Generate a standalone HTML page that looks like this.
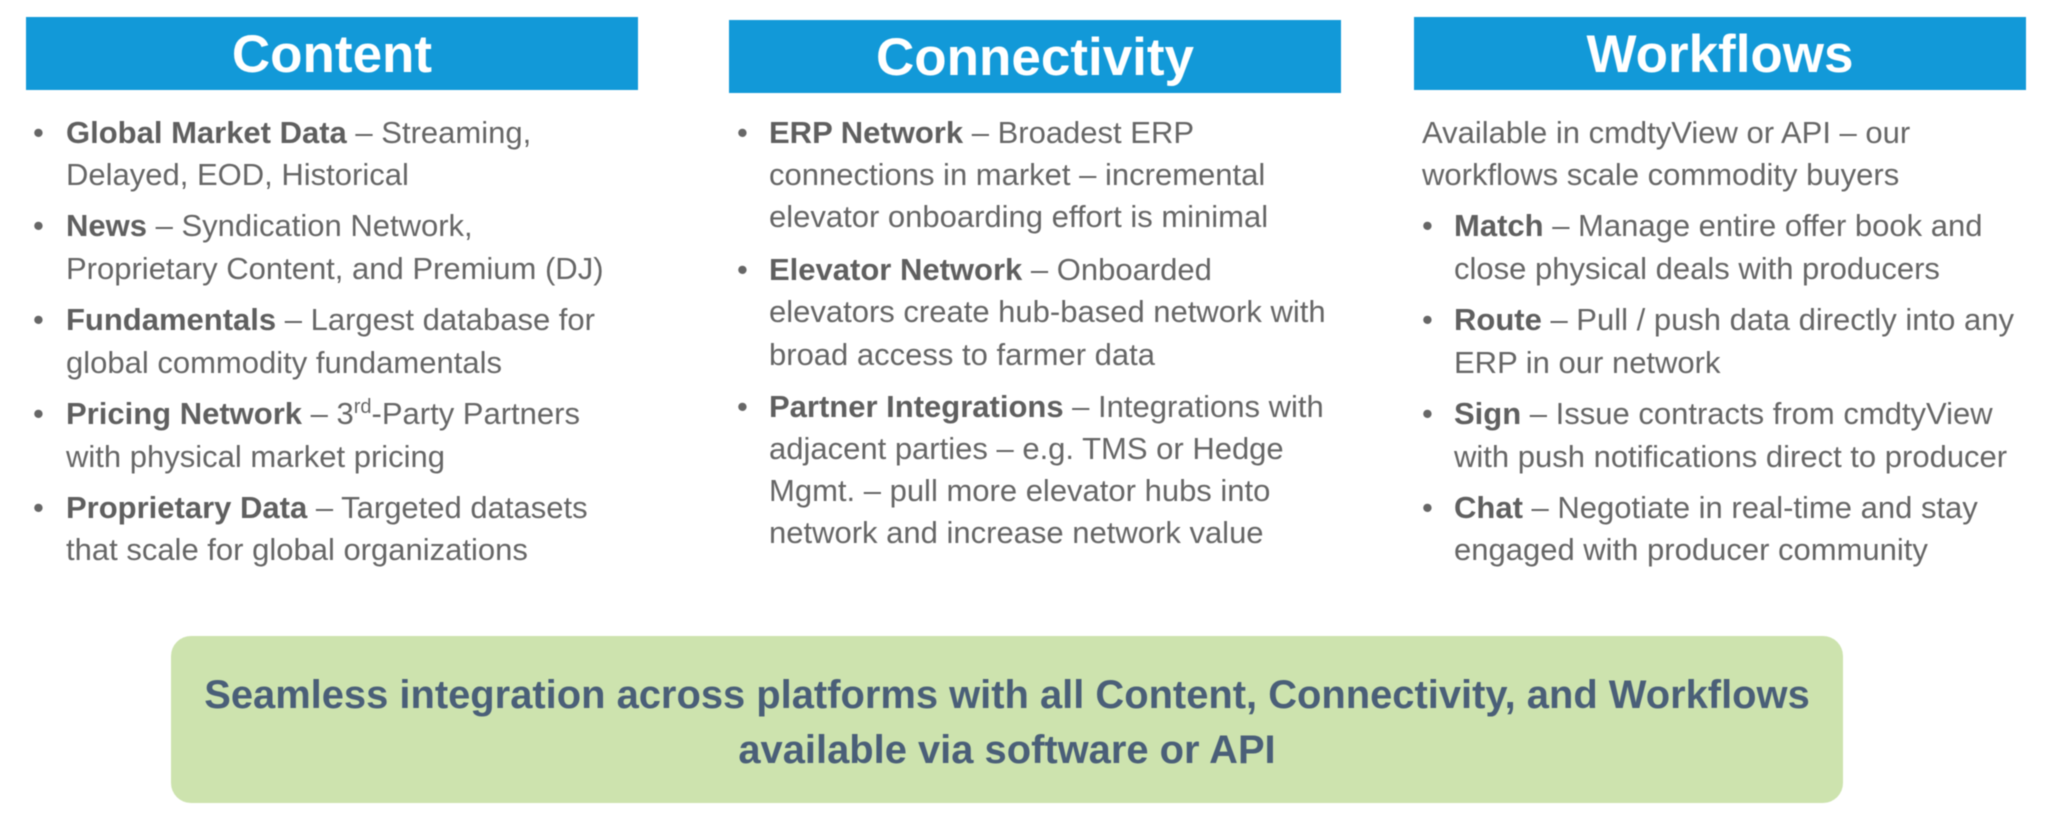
<!DOCTYPE html>
<html><head><meta charset="utf-8"><style>
html,body{margin:0;padding:0;background:#fff}
body{width:2048px;height:833px;position:relative;overflow:hidden;font-family:"Liberation Sans",Arial,sans-serif}
#w{position:absolute;left:0;top:0;width:2048px;height:833px;filter:blur(0.4px)}
.h{position:absolute;background:#1299d8;color:#fff;font-weight:bold;font-size:53px;text-align:center;line-height:75px;height:73px;width:612px}
.l{position:absolute;white-space:nowrap;font-size:31px;line-height:40px;color:#666}
.l b{color:#5f5f5f}
.d{position:absolute;font-size:31px;line-height:40px;color:#666}
sup{font-size:20px;line-height:0;vertical-align:baseline;position:relative;top:-11px}
.g{position:absolute;left:171px;top:636px;width:1672px;height:167px;background:#cde3ae;border-radius:20px}
.t{position:absolute;left:171px;width:1672px;text-align:center;font-weight:bold;font-size:39.9px;line-height:50px;color:#4a5f78;white-space:nowrap}
</style></head><body><div id="w">
<div class="h" style="left:26px;top:17px">Content</div>
<div class="h" style="left:729px;top:20px">Connectivity</div>
<div class="h" style="left:1414px;top:17px">Workflows</div>

<div class="d" style="left:33px;top:113px">•</div><div class="l" style="left:66px;top:113px"><b>Global Market Data</b> – Streaming,</div>
<div class="l" style="left:66px;top:155px">Delayed, EOD, Historical</div>
<div class="d" style="left:33px;top:206px">•</div><div class="l" style="left:66px;top:206px"><b>News</b> – Syndication Network,</div>
<div class="l" style="left:66px;top:249px">Proprietary Content, and Premium (DJ)</div>
<div class="d" style="left:33px;top:300px">•</div><div class="l" style="left:66px;top:300px"><b>Fundamentals</b> – Largest database for</div>
<div class="l" style="left:66px;top:343px">global commodity fundamentals</div>
<div class="d" style="left:33px;top:394px">•</div><div class="l" style="left:66px;top:394px"><b>Pricing Network</b> – 3<sup>rd</sup>-Party Partners</div>
<div class="l" style="left:66px;top:437px">with physical market pricing</div>
<div class="d" style="left:33px;top:488px">•</div><div class="l" style="left:66px;top:488px"><b>Proprietary Data</b> – Targeted datasets</div>
<div class="l" style="left:66px;top:530px">that scale for global organizations</div>

<div class="d" style="left:737px;top:113px">•</div><div class="l" style="left:769px;top:113px"><b>ERP Network</b> – Broadest ERP</div>
<div class="l" style="left:769px;top:155px">connections in market – incremental</div>
<div class="l" style="left:769px;top:197px">elevator onboarding effort is minimal</div>
<div class="d" style="left:737px;top:250px">•</div><div class="l" style="left:769px;top:250px"><b>Elevator Network</b> – Onboarded</div>
<div class="l" style="left:769px;top:292px">elevators create hub-based network with</div>
<div class="l" style="left:769px;top:335px">broad access to farmer data</div>
<div class="d" style="left:737px;top:387px">•</div><div class="l" style="left:769px;top:387px"><b>Partner Integrations</b> – Integrations with</div>
<div class="l" style="left:769px;top:429px">adjacent parties – e.g. TMS or Hedge</div>
<div class="l" style="left:769px;top:471px">Mgmt. – pull more elevator hubs into</div>
<div class="l" style="left:769px;top:513px">network and increase network value</div>

<div class="l" style="left:1422px;top:113px">Available in cmdtyView or API – our</div>
<div class="l" style="left:1422px;top:155px">workflows scale commodity buyers</div>
<div class="d" style="left:1422px;top:206px">•</div><div class="l" style="left:1454px;top:206px"><b>Match</b> – Manage entire offer book and</div>
<div class="l" style="left:1454px;top:249px">close physical deals with producers</div>
<div class="d" style="left:1422px;top:300px">•</div><div class="l" style="left:1454px;top:300px"><b>Route</b> – Pull / push data directly into any</div>
<div class="l" style="left:1454px;top:343px">ERP in our network</div>
<div class="d" style="left:1422px;top:394px">•</div><div class="l" style="left:1454px;top:394px"><b>Sign</b> – Issue contracts from cmdtyView</div>
<div class="l" style="left:1454px;top:437px">with push notifications direct to producer</div>
<div class="d" style="left:1422px;top:488px">•</div><div class="l" style="left:1454px;top:488px"><b>Chat</b> – Negotiate in real-time and stay</div>
<div class="l" style="left:1454px;top:530px">engaged with producer community</div>

<div class="g"></div>
<div class="t" style="top:670px">Seamless integration across platforms with all Content, Connectivity, and Workflows</div>
<div class="t" style="top:725px">available via software or API</div>
</div></body></html>
